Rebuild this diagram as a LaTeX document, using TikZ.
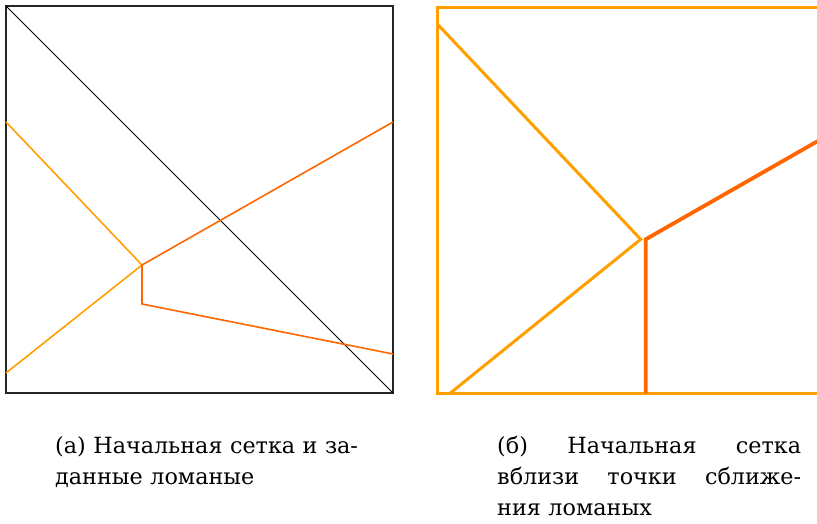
\documentclass[tikz,border=0pt]{standalone}
\usepackage{fontspec}
\setmainfont{DejaVu Serif}
\usetikzlibrary{positioning}
\definecolor{lightorange}{RGB}{255,160,0}
\definecolor{darkorange}{RGB}{255,102,0}

\begin{document}
\begin{tikzpicture}[x=1pt, y=-1pt,
    capbox/.style={anchor=base west, inner sep=0pt, text width=304pt, align=left,
      font=\fontsize{22.3}{31}\selectfont}]
            \useasboundingbox (0,0) rectangle (817,524);

            \coordinate (A1) at (6,6);
            \coordinate (A2) at (393,393);
            \draw[black!85, line width=1.2pt] (A1) rectangle (A2);
            \draw[black, line width=0.8pt] (A1) -- (A2);

            \coordinate (L1) at (6,122);
            \coordinate (L0) at (6,373);
            \coordinate (P) at (142,265);
            \coordinate (Q) at (142,304);
            \coordinate (R1) at (393,122);
            \coordinate (R0) at (393,354);
            \draw[lightorange, line width=1.6pt] (L1) -- (P) -- (L0);
            \draw[darkorange, line width=1.6pt] (R1) -- (P) -- (Q) -- (R0);

            \begin{scope}
                \clip (420,0) rectangle (817,410);
                \coordinate (B1) at (437.3,7.5);
                \coordinate (B2) at (840,393.3);
                \draw[lightorange, line width=3pt] (B1) rectangle (B2);

                \coordinate (U1) at (437.3,24);
                \coordinate (U0) at (450,393.3);
                \coordinate (P2) at (640.7,239.3);
                \draw[lightorange, line width=3pt] (U1) -- (P2) -- (U0);

                \coordinate (V0) at (645.7,393.3);
                \coordinate (V1) at (645.7,239.3);
                \coordinate (W) at (840,128.4);
                \draw[darkorange, line width=3.8pt] (V0) -- (V1) -- (W);
            \end{scope}

            \node[capbox] (capA) at (55,453) {(а) Начальная сетка и за-\\данные ломаные};
            \node[capbox] (capB) at (497,453) {(б)\hfill Начальная\hfill сетка\\вблизи\hfill точки\hfill сближе-\\ния ломаных};
        \end{tikzpicture}
\end{document}
